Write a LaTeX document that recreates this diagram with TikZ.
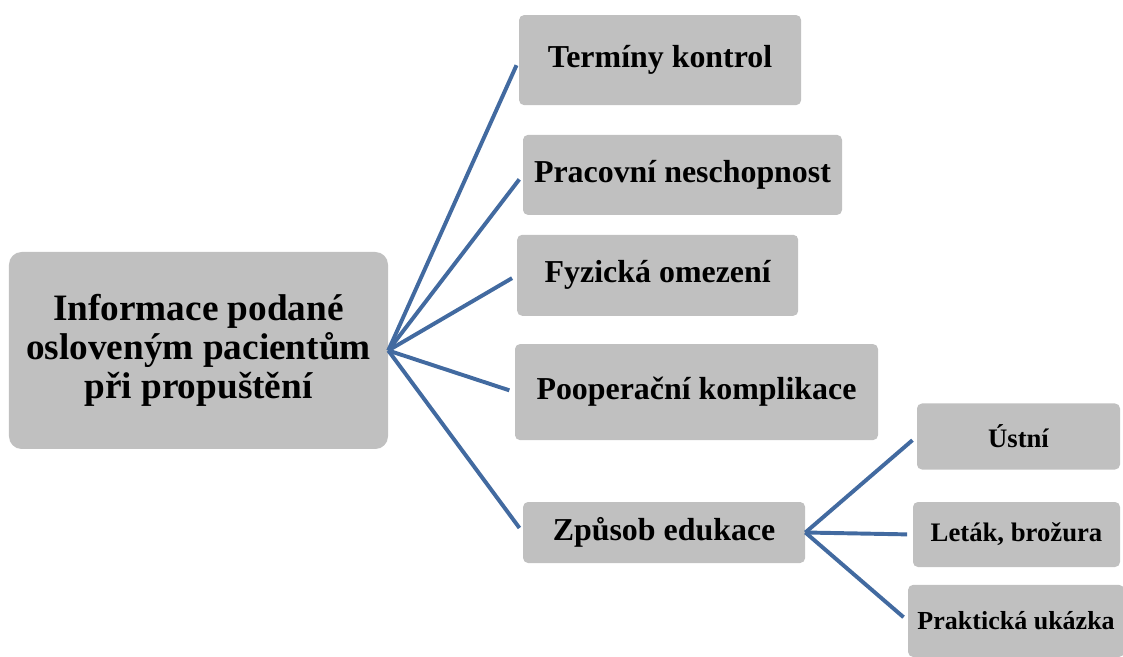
\documentclass[tikz,border=0pt]{standalone}
\usepackage{fontspec}
\setmainfont{Liberation Serif}
\usetikzlibrary{positioning}

\definecolor{boxgray}{RGB}{192,192,192}
\definecolor{linkblue}{RGB}{66,106,160}

\tikzset{
  topic/.style={fill=boxgray,rounded corners=3.5pt,inner sep=0pt,align=center,
    font=\bfseries\fontsize{22.7}{26}\selectfont},
  subtopic/.style={topic,font=\bfseries\fontsize{19}{22}\selectfont},
  link/.style={draw=linkblue,line width=2.8pt,shorten >=4pt}
}

\begin{document}
\begin{tikzpicture}[on grid]
			\useasboundingbox (-4.9625,8.7625) rectangle (23.1125,-7.6625);
			\clip (-4.9625,8.7625) rectangle (23.1125,-7.6625);
			\node[topic,rounded corners=9pt,minimum width=9.475cm,minimum height=4.925cm,
				font=\bfseries\fontsize{26.5}{27.5}\selectfont] (info)
				{Informace podané\\osloveným pacientům\\při propuštění};
			\node[topic,minimum width=7.05cm,minimum height=2.25cm] (terminy)
				[above right=7.26cm and 11.54cm of info] {Termíny kontrol};
			\node[topic,minimum width=7.975cm,minimum height=2cm] (neschopnost)
				[above right=4.39cm and 12.1cm of info] {Pracovní neschopnost};
			\node[topic,minimum width=7.025cm,minimum height=2.025cm] (omezeni)
				[above right=1.88cm and 11.48cm of info] {Fyzická omezení};
			\node[topic,minimum width=9.075cm,minimum height=2.4cm] (komplikace)
				[below right=1.04cm and 12.45cm of info] {Pooperační komplikace};
			\node[topic,minimum width=7.05cm,minimum height=1.525cm] (edukace)
				[below right=4.55cm and 11.64cm of info] {Způsob edukace};
			\node[subtopic,minimum width=5.075cm,minimum height=1.65cm] (ustni)
				[above right=2.4cm and 8.86cm of edukace] {Ústní};
			\node[subtopic,minimum width=5.175cm,minimum height=1.625cm] (letak)
				[below right=0.05cm and 8.81cm of edukace] {Leták, brožura};
			\node[subtopic,minimum width=5.4cm,minimum height=1.8cm,
				font=\bfseries\fontsize{18.5}{22}\selectfont] (ukazka)
				[below right=2.21cm and 8.8cm of edukace] {Praktická ukázka};
			\foreach \x in {terminy,neschopnost,omezeni,komplikace,edukace}
				\draw[link] (info.east) -- (\x.west);
			\foreach \x in {ustni,letak,ukazka}
				\draw[link] (edukace.east) -- (\x.west);
		\end{tikzpicture}
\end{document}
